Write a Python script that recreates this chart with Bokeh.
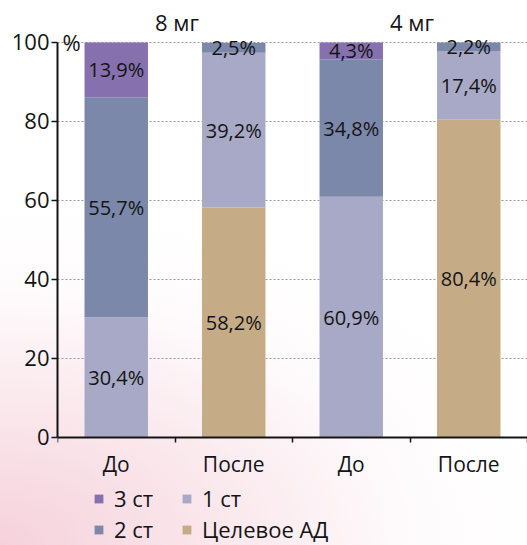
from bokeh.plotting import figure
from bokeh.models import (Range1d, LinearAxis, FixedTicker, Grid, Legend, LegendItem,
                          Label, ColumnDataSource)
from bokeh.core.properties import value
from bokeh.embed import file_html
from bokeh.resources import INLINE

# Data: share of patients by blood-pressure grade, before/after, two doses
phases = ["До", "После", "До", "После"]
doses = ["8 мг", "4 мг"]
stages = ["Целевое АД", "1 ст", "2 ст", "3 ст"]
target = [0.0, 58.2, 0.0, 80.4]
grade1 = [30.4, 39.2, 60.9, 17.4]
grade2 = [55.7, 2.5, 34.8, 2.2]
grade3 = [13.9, 0.0, 4.3, 0.0]
y_ticks = [0, 20, 40, 60, 80, 100]

colors = ["#c6ab87", "#a8a9c6", "#7b88aa", "#8670ae"]
FONT = "Open Sans"
INK = "#141414"

xs = [i + 0.5 for i in range(len(phases))]
src = ColumnDataSource(dict(x=xs, target=target, g1=grade1, g2=grade2, g3=grade3))

# The frame fills the canvas vertically; the category axis sits at y = 0 inside it,
# leaving room underneath for the legend.
p = figure(width=527, height=545, x_range=Range1d(0, 4), y_range=Range1d(-27.34, 110.6),
           output_backend="svg", toolbar_location=None,
           x_axis_type=None, y_axis_type=None,
           min_border_left=57, min_border_right=0, min_border_top=0, min_border_bottom=0)
p.outline_line_color = None
p.background_fill_alpha = 0
p.border_fill_alpha = 0
p.styles = {
    "background": "radial-gradient(ellipse 105% 62% at 0% 100%, rgba(238,172,192,0.55) 0%, "
                  "rgba(243,200,212,0.38) 45%, rgba(250,228,234,0.15) 75%, "
                  "rgba(255,255,255,0) 100%), #ffffff"
}

# axes
yaxis = LinearAxis(ticker=FixedTicker(ticks=y_ticks), bounds=(0, 100))
yaxis.axis_line_color = INK
yaxis.axis_line_width = 2
yaxis.major_tick_line_color = INK
yaxis.major_tick_line_width = 1.5
yaxis.major_tick_out = 6
yaxis.major_tick_in = 0
yaxis.minor_tick_out = 0
yaxis.major_label_standoff = 2
yaxis.major_label_text_font = FONT
yaxis.major_label_text_font_size = "22px"
yaxis.major_label_text_color = INK
p.add_layout(yaxis, "left")

xaxis = LinearAxis(ticker=FixedTicker(ticks=xs, minor_ticks=[0, 1, 2, 3, 4]),
                   fixed_location=0)
xaxis.major_label_overrides = {x: t for x, t in zip(xs, phases)}
xaxis.axis_line_color = INK
xaxis.axis_line_width = 2
xaxis.major_tick_out = 0
xaxis.major_tick_in = 0
xaxis.minor_tick_out = 5
xaxis.minor_tick_in = 0
xaxis.minor_tick_line_color = INK
xaxis.minor_tick_line_width = 1.5
xaxis.major_label_standoff = 8
xaxis.major_label_text_font = FONT
xaxis.major_label_text_font_size = "21px"
xaxis.major_label_text_color = INK
p.add_layout(xaxis, "below")

grid = Grid(dimension=1, ticker=yaxis.ticker, grid_line_color="#9a9a9a",
            grid_line_dash="2 2", grid_line_width=1)
p.add_layout(grid)

# stacked bars
rs = p.vbar_stack(["target", "g1", "g2", "g3"], x="x", width=0.54, color=colors,
                  line_color=None, source=src)

# segment value labels
lx, ly, lt = [], [], []
for i, x in enumerate(xs):
    base = 0.0
    for vals in (target, grade1, grade2, grade3):
        v = vals[i]
        if v > 0:
            lx.append(x)
            ly.append(base + v / 2)
            lt.append(f"{v:.1f}%".replace(".", ","))
        base += v
p.text(x=lx, y=ly, text=lt, text_align="center", text_baseline="middle",
       text_font=value(FONT), text_font_size="20px", text_color=INK)

# unit and dose captions
p.add_layout(Label(x=0, y=100, x_offset=5, text="%", text_baseline="middle",
                   text_font=FONT, text_font_size="22px", text_color=INK))
for i, d in enumerate(doses):
    p.add_layout(Label(x=2 * i + 1, y=100, y_offset=20, x_offset=2, text=d,
                       text_align="center", text_baseline="middle", text_font=FONT,
                       text_font_size="22px", text_color=INK))

legend = Legend(items=[LegendItem(label=stages[i], renderers=[rs[i]]) for i in (3, 2, 1, 0)],
                location=(36, 1), orientation="vertical", nrows=2,
                glyph_width=11, glyph_height=11, label_standoff=10, spacing=1,
                padding=0, margin=0, border_line_color=None, background_fill_alpha=0,
                label_text_font=FONT, label_text_font_size="22px", label_text_color=INK,
                label_height=24, label_width=66)
p.add_layout(legend, "center")

open("out.html", "w").write(file_html(p, INLINE))
